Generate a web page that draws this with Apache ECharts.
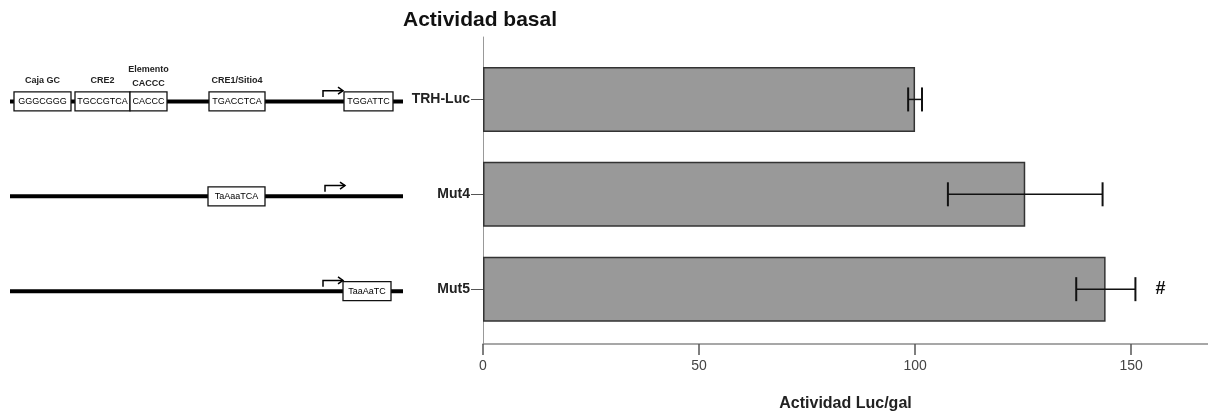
<!DOCTYPE html>
<html>
<head>
<meta charset="utf-8">
<script src="https://cdn.jsdelivr.net/npm/echarts@6/dist/echarts.min.js"></script>
<style>
  html, body { margin: 0; padding: 0; background: #fff; }
  #chart { width: 1208px; height: 417px; }
</style>
</head>
<body>
<div id="chart"></div>
<script>
// Constructs and their basal luciferase activity
const categories = ['TRH-Luc', 'Mut4', 'Mut5'];
const basalActivity = [100, 125.5, 144.1];
const errorLow = [98.4, 107.6, 137.3];
const errorHigh = [101.6, 143.4, 151.0];
const significance = ['', '', '#'];
const activityTicks = [0, 50, 100, 150];

// Promoter schematics (positions along the drawn promoter, 0-420 units)
const constructSpan = [10, 403];
const tssPosition = [323, 325, 323];
const boxRow = [0, 0, 0, 0, 0, 1, 2];
const boxStart = [14, 75, 130, 209, 344, 208, 343];
const boxEnd = [71, 130, 167, 265, 393, 265, 391];
const boxSequence = ['GGGCGGG', 'TGCCGTCA', 'CACCC', 'TGACCTCA', 'TGGATTC', 'TaAaaTCA', 'TaaAaTC'];
const elementName = ['Caja GC', 'CRE2', 'Elemento\nCACCC', 'CRE1/Sitio4', '', '', ''];

const FONT = '"Liberation Sans", Arial, sans-serif';
const AXIS_MAX = 167.8;

const chart = echarts.init(document.getElementById('chart'), null, { renderer: 'canvas' });

const option = {
  animation: false,
  backgroundColor: '#fff',
  title: {
    text: 'Actividad basal',
    left: 403,
    top: 8,
    padding: 0,
    textStyle: { fontFamily: FONT, fontSize: 21, fontWeight: 'bold', color: '#111', lineHeight: 24 }
  },
  grid: [
    // axes frame
    { left: 483, right: 0, top: 37, height: 316 },
    // bars
    { left: 483, right: 0, top: 52, height: 284.6 },
    // promoter schematics
    { left: 0, width: 420, top: 54, height: 284.6 }
  ],
  xAxis: [
    {
      gridIndex: 0, type: 'value', min: 0, max: AXIS_MAX, interval: 50,
      name: 'Actividad Luc/gal', nameLocation: 'middle', nameGap: 52,
      nameTextStyle: { fontFamily: FONT, fontSize: 16, fontWeight: 'bold', color: '#222' },
      axisLine: { show: true, lineStyle: { color: '#8a8a8a', width: 1.5 } },
      axisTick: { show: true, length: 11, lineStyle: { color: '#555', width: 1.5 } },
      axisLabel: {
        margin: 15, fontFamily: FONT, fontSize: 14, color: '#444',
        showMaxLabel: false,
        formatter: v => activityTicks.includes(v) ? String(v) : ''
      },
      splitLine: { show: false }
    },
    { gridIndex: 1, type: 'value', min: 0, max: AXIS_MAX, show: false },
    { gridIndex: 2, type: 'value', min: 0, max: 420, show: false }
  ],
  yAxis: [
    {
      gridIndex: 0, type: 'value', min: 0, max: 1,
      axisLine: { show: true, lineStyle: { color: '#999', width: 1 } },
      axisTick: { show: false }, axisLabel: { show: false }, splitLine: { show: false }
    },
    {
      gridIndex: 1, type: 'category', data: categories, inverse: true,
      axisLine: { show: false },
      axisTick: { show: true, length: 12, alignWithLabel: true, lineStyle: { color: '#555', width: 1 } },
      axisLabel: { margin: 13, fontFamily: FONT, fontSize: 14, fontWeight: 'bold', color: '#222' }
    },
    { gridIndex: 2, type: 'category', data: categories, inverse: true, show: false }
  ],
  series: [
    {
      type: 'bar',
      xAxisIndex: 1, yAxisIndex: 1,
      data: basalActivity,
      barWidth: 65,
      itemStyle: { color: '#999999', borderColor: '#333', borderWidth: 1.5 },
      z: 2
    },
    {
      // error bars with significance mark
      type: 'custom',
      xAxisIndex: 1, yAxisIndex: 1,
      data: categories.map((c, i) => [i, errorLow[i], errorHigh[i]]),
      encode: { x: [1, 2], y: 0 },
      z: 5,
      renderItem: (params, api) => {
        const lo = api.coord([api.value(1), api.value(0)]);
        const hi = api.coord([api.value(2), api.value(0)]);
        const y = lo[1];
        const cap = 12;
        const children = [
          { type: 'line', shape: { x1: lo[0], y1: y, x2: hi[0], y2: y }, style: { stroke: '#111', lineWidth: 1.5 } },
          { type: 'line', shape: { x1: lo[0], y1: y - cap, x2: lo[0], y2: y + cap }, style: { stroke: '#111', lineWidth: 2 } },
          { type: 'line', shape: { x1: hi[0], y1: y - cap, x2: hi[0], y2: y + cap }, style: { stroke: '#111', lineWidth: 2 } }
        ];
        const mark = significance[params.dataIndex];
        if (mark) {
          children.push({
            type: 'text',
            style: { text: mark, x: hi[0] + 25, y: y, align: 'center', verticalAlign: 'middle',
              fontFamily: FONT, fontSize: 18, fontWeight: 'bold', fill: '#111' }
          });
        }
        return { type: 'group', children };
      }
    },
    {
      // promoter backbone and transcription start arrow
      type: 'custom',
      xAxisIndex: 2, yAxisIndex: 2,
      data: categories.map((c, i) => [i, constructSpan[0], constructSpan[1], tssPosition[i]]),
      encode: { x: [1, 2, 3], y: 0 },
      z: 3,
      renderItem: (params, api) => {
        const a = api.coord([api.value(1), api.value(0)]);
        const b = api.coord([api.value(2), api.value(0)]);
        const t = api.coord([api.value(3), api.value(0)]);
        const y = a[1];
        const ay = y - 10.7;
        const tip = t[0] + 20;
        return {
          type: 'group',
          children: [
            { type: 'line', shape: { x1: a[0], y1: y, x2: b[0], y2: y }, style: { stroke: '#000', lineWidth: 4 } },
            { type: 'polyline', shape: { points: [[t[0], y - 4.5], [t[0], ay], [tip, ay]] },
              style: { stroke: '#000', lineWidth: 1.5, fill: null } },
            { type: 'polyline', shape: { points: [[tip - 5, ay - 3.5], [tip, ay], [tip - 5, ay + 3.5]] },
              style: { stroke: '#000', lineWidth: 1.5, fill: null } }
          ]
        };
      }
    },
    {
      // regulatory element boxes
      type: 'custom',
      xAxisIndex: 2, yAxisIndex: 2,
      data: boxRow.map((r, i) => [r, boxStart[i], boxEnd[i]]),
      encode: { x: [1, 2], y: 0 },
      z: 4,
      renderItem: (params, api) => {
        const s = api.coord([api.value(1), api.value(0)]);
        const e = api.coord([api.value(2), api.value(0)]);
        const y = s[1];
        const h = 19;
        const i = params.dataIndex;
        const children = [
          { type: 'rect', shape: { x: s[0], y: y - h / 2, width: e[0] - s[0], height: h },
            style: { fill: '#fff', stroke: '#111', lineWidth: 1.3 } },
          { type: 'text', style: { text: boxSequence[i], x: (s[0] + e[0]) / 2, y: y + 0.5,
              align: 'center', verticalAlign: 'middle', fontFamily: FONT, fontSize: 9, fill: '#000' } }
        ];
        const name = elementName[i];
        if (name) {
          const twoLines = name.indexOf('\n') >= 0;
          children.push({
            type: 'text',
            style: { text: name, x: (s[0] + e[0]) / 2, y: twoLines ? y - 25 : y - 21,
              align: 'center', verticalAlign: 'middle', lineHeight: 14,
              fontFamily: FONT, fontSize: 9, fontWeight: 'bold', fill: '#222' }
          });
        }
        return { type: 'group', children };
      }
    }
  ]
};

chart.setOption(option);
</script>
</body>
</html>
